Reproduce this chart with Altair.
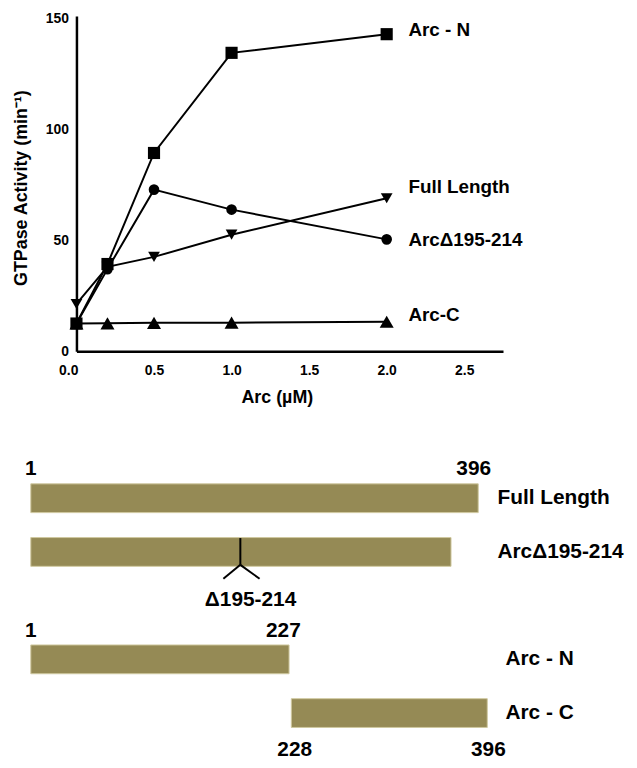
import altair as alt
import pandas as pd

FONT = "Liberation Sans"

# ---------------- top chart data ----------------
conc = [0.0, 0.2, 0.5, 1.0, 2.0]
arc_n = [12.5, 39.3, 89.3, 134.4, 142.8]
full_length = [21.3, 38.0, 42.5, 52.5, 68.9]
arc_delta = [12.5, 37.0, 72.8, 63.8, 50.4]
arc_c = [12.5, 12.6, 12.8, 12.9, 13.3]

series_names = ["Arc - N", "Full Length", "ArcΔ195-214", "Arc-C"]
series_values = [arc_n, full_length, arc_delta, arc_c]
series_shapes = ["square", "triangle-down", "circle", "triangle-up"]
series_sizes = [150, 140, 115, 200]
label_y = [144.8, 74.1, 49.9, 16.1]
label_x = [2.14, 2.14, 2.14, 2.14]

x_ticks = [0, 0.5, 1.0, 1.5, 2.0, 2.5]
y_ticks = [0, 50, 100, 150]

# ---------------- bottom diagram data ----------------
bar_names = ["Full Length", "ArcΔ195-214", "Arc - N", "Arc - C"]
bar_row = [0, 1, 3, 4]
bar_start = [1, 1, 1, 231]
bar_end = [396, 372, 229, 404]
name_pos = [413, 413, 420, 420]

num_above_text = ["1", "396", "1", "227"]
num_above_pos = [1, 392, 1, 224]
num_above_row = [0, 0, 3, 3]
num_below_text = ["228", "396"]
num_below_pos = [234, 405]
num_below_row = [4, 4]

del_site = 186
del_arm_ends = [171, 203]
del_label = "Δ195-214"
del_label_pos = 195
del_row = 1

OLIVE = "#958A55"

rows = []
for name, vals in zip(series_names, series_values):
    for c, v in zip(conc, vals):
        rows.append({"series": name, "conc": c, "act": v})
df = pd.DataFrame(rows)

xs = alt.Scale(domain=[0, 2.75], nice=False, zero=False)
ys = alt.Scale(domain=[0, 151], nice=False)

x_enc = alt.X("conc:Q", scale=xs, axis=alt.Axis(
    values=x_ticks, format=".1f", title="Arc (µM)", grid=False, ticks=False, tickSize=0,
    domainColor="black", domainWidth=2.5, labelFont=FONT, labelFontSize=14,
    labelFontWeight="bold", labelColor="black", labelPadding=12,
    labelFlush=1, labelFlushOffset=18,
    titleFont=FONT, titleFontSize=18, titleFontWeight="bold", titleColor="black",
    titlePadding=12, titleX=202))
y_enc = alt.Y("act:Q", scale=ys, axis=alt.Axis(
    values=y_ticks, title="GTPase Activity (min⁻¹)", grid=False, ticks=False, tickSize=0,
    domainColor="black", domainWidth=2.5, labelFont=FONT, labelFontSize=14,
    labelFontWeight="bold", labelColor="black", labelPadding=8,
    titleFont=FONT, titleFontSize=18, titleFontWeight="bold", titleColor="black",
    titleAngle=270, titleX=-55, titleY=173, titleAlign="center", titleBaseline="middle"))

lines = alt.Chart(df).mark_line(color="black", strokeWidth=2).encode(
    x=x_enc, y=y_enc, detail="series:N", order="conc:Q")

layers = [lines]
for name, shape, size in zip(series_names, series_shapes, series_sizes):
    layers.append(
        alt.Chart(df[df["series"] == name]).mark_point(
            shape=shape, size=size, filled=True, color="black", opacity=1
        ).encode(x="conc:Q", y="act:Q")
    )

lab_df = pd.DataFrame({"name": series_names, "x": label_x, "y": label_y})
layers.append(
    alt.Chart(lab_df).mark_text(align="left", baseline="middle", font=FONT,
                                fontSize=19, fontWeight="bold", color="black")
    .encode(x="x:Q", y="y:Q", text="name:N")
)

top = alt.layer(*layers).properties(width=430, height=338)

# ---------------- bottom diagram ----------------
bx = alt.Scale(domain=[41.3, 417.9], nice=False, zero=False)
by = alt.Scale(domain=[-1, 4.8], nice=False, zero=False, reverse=True)

bar_df = pd.DataFrame({"name": bar_names, "row": bar_row, "start": bar_start,
                       "end": bar_end, "npos": name_pos})
bars = alt.Chart(bar_df).mark_bar(size=29, orient="horizontal", color=OLIVE,
                                  stroke="#cfc8a0", strokeWidth=1).encode(
    x=alt.X("start:Q", scale=bx, axis=None),
    x2="end:Q",
    y=alt.Y("row:Q", scale=by, axis=None),
)
names = alt.Chart(bar_df).mark_text(align="left", baseline="middle", font=FONT,
                                    fontSize=21, fontWeight="bold", color="black").encode(
    x="npos:Q", y="row:Q", text="name:N")

above_df = pd.DataFrame({"t": num_above_text, "pos": num_above_pos, "row": num_above_row})
above = alt.Chart(above_df).mark_text(align="center", baseline="middle", dy=-29, font=FONT,
                                      fontSize=21, fontWeight="bold", color="black").encode(
    x="pos:Q", y="row:Q", text="t:N")
below_df = pd.DataFrame({"t": num_below_text, "pos": num_below_pos, "row": num_below_row})
below = alt.Chart(below_df).mark_text(align="center", baseline="middle", dy=37, font=FONT,
                                      fontSize=21, fontWeight="bold", color="black").encode(
    x="pos:Q", y="row:Q", text="t:N")

del_df = pd.DataFrame({"x": [del_site], "row": [del_row], "row2": [del_row]})
del_line = alt.Chart(del_df).mark_rule(color="black", strokeWidth=2,
                                       yOffset=-14, y2Offset=13).encode(
    x="x:Q", y="row:Q", y2="row2:Q")
arm_df = pd.DataFrame({"x": [del_site] * len(del_arm_ends), "x2": del_arm_ends,
                       "row": [del_row] * len(del_arm_ends), "row2": [del_row] * len(del_arm_ends)})
arms = alt.Chart(arm_df).mark_rule(color="black", strokeWidth=2,
                                   yOffset=13, y2Offset=27).encode(
    x="x:Q", x2="x2:Q", y="row:Q", y2="row2:Q")
dl_df = pd.DataFrame({"t": [del_label], "pos": [del_label_pos], "row": [del_row]})
dlab = alt.Chart(dl_df).mark_text(align="center", baseline="middle", dy=48, font=FONT,
                                  fontSize=21, fontWeight="bold", color="black").encode(
    x="pos:Q", y="row:Q", text="t:N")

bottom = alt.layer(bars, del_line, arms, names, above, below, dlab).properties(
    width=430, height=324)

chart = alt.vconcat(top, bottom, spacing=33).properties(
    padding={"left": 5, "top": 0, "right": 5, "bottom": 0}
).configure_view(stroke=None)

chart.save("out.html", embed_options={"renderer": "svg", "actions": False})
